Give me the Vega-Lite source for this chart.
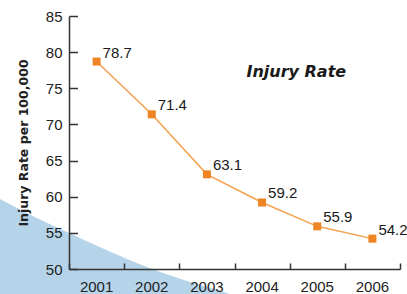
{
  "$schema": "https://vega.github.io/schema/vega-lite/v6.json",
  "width": 331,
  "height": 253,
  "autosize": {"type": "none"},
  "padding": {"left": 69, "top": 16, "right": 7, "bottom": 25},
  "background": "white",
  "config": {
    "font": "Liberation Sans",
    "view": {"stroke": null}
  },
  "datasets": {
    "rates": [
      {"year": "2001", "rate": 78.7},
      {"year": "2002", "rate": 71.4},
      {"year": "2003", "rate": 63.1},
      {"year": "2004", "rate": 59.2},
      {"year": "2005", "rate": 55.9},
      {"year": "2006", "rate": 54.2}
    ],
    "swoosh": [
      {"yr": 1998.86, "v": 61.21},
      {"yr": 1999.23, "v": 59.75},
      {"yr": 1999.85, "v": 57.3},
      {"yr": 2000.5, "v": 54.98},
      {"yr": 2001.25, "v": 52.4},
      {"yr": 2002.01, "v": 50.0},
      {"yr": 2002.7, "v": 48.2},
      {"yr": 2003.41, "v": 46.54},
      {"yr": 2003.96, "v": 44.6}
    ],
    "caption": [
      {"yr": 2004.62, "v": 76.56, "label": "Injury Rate"}
    ]
  },
  "resolve": {"scale": {"x": "independent", "y": "independent"}},
  "layer": [
    {
      "layer": [
        {
          "data": {"name": "swoosh"},
          "mark": {"type": "area", "color": "#b5d4ea", "clip": false, "interpolate": "monotone", "opacity": 1},
          "encoding": {
            "x": {"field": "yr", "type": "quantitative", "scale": {"domain": [2000.5, 2006.5], "nice": false, "zero": false}, "axis": null},
            "y": {"field": "v", "type": "quantitative", "scale": {"domain": [50, 85], "nice": false, "zero": false}, "axis": null},
            "y2": {"datum": 40}
          }
        },
        {
          "data": {"name": "caption"},
          "mark": {"type": "text", "font": "DejaVu Sans", "fontSize": 16, "fontWeight": "bold", "fontStyle": "italic", "color": "#1a1a1a", "align": "center", "baseline": "alphabetic"},
          "encoding": {
            "x": {"field": "yr", "type": "quantitative", "scale": {"domain": [2000.5, 2006.5], "nice": false, "zero": false}, "axis": null},
            "y": {"field": "v", "type": "quantitative", "scale": {"domain": [50, 85], "nice": false, "zero": false}, "axis": null},
            "text": {"field": "label"}
          }
        }
      ]
    },
    {
      "data": {"name": "rates"},
      "resolve": {"axis": {"x": "independent", "y": "independent"}},
      "layer": [
        {
          "mark": {"type": "line", "color": "#f4a04c", "strokeWidth": 1.5},
          "encoding": {
            "x": {
              "field": "year", "type": "ordinal",
              "scale": {"type": "band", "paddingInner": 0, "paddingOuter": 0},
              "axis": {
                "orient": "bottom", "title": null, "labelAngle": 0, "ticks": false,
                "labelFontSize": 15, "labelColor": "#222", "labelPadding": 10,
                "domainColor": "#333", "domainWidth": 1.5, "zindex": 1
              }
            },
            "y": {
              "field": "rate", "type": "quantitative",
              "scale": {"domain": [50, 85], "nice": false, "zero": false},
              "axis": {
                "orient": "left",
                "title": "Injury Rate per 100,000", "titleFont": "DejaVu Sans", "titleFontSize": 12.5, "titleFontWeight": "bold", "titleColor": "#222", "titlePadding": 15,
                "values": [50, 55, 60, 65, 70, 75, 80, 85], "ticks": false,
                "labelFontSize": 15, "labelColor": "#222", "labelPadding": 7,
                "domainColor": "#333", "domainWidth": 1.5,
                "grid": false, "zindex": 1
              }
            }
          }
        },
        {
          "mark": {"type": "point", "shape": "square", "filled": true, "color": "#ef8424", "size": 64, "opacity": 1},
          "encoding": {
            "x": {
              "field": "year", "type": "ordinal",
              "scale": {"type": "band", "paddingInner": 0, "paddingOuter": 0},
              "axis": {
                "orient": "bottom", "title": null, "labels": false, "domain": false, "grid": false,
                "tickBand": "extent", "tickSize": 6, "offset": -6,
                "tickColor": "#333", "tickWidth": 1.5, "zindex": 1
              }
            },
            "y": {
              "field": "rate", "type": "quantitative",
              "scale": {"domain": [50, 85], "nice": false, "zero": false},
              "axis": {
                "orient": "left", "title": null, "labels": false, "domain": false, "grid": false,
                "values": [50, 55, 60, 65, 70, 75, 80, 85], "tickSize": 8.5, "offset": -8.5,
                "tickColor": "#333", "tickWidth": 1.5, "zindex": 1
              }
            }
          }
        },
        {
          "mark": {"type": "text", "align": "left", "baseline": "alphabetic", "dx": 6, "dy": -4, "fontSize": 15, "color": "#1a1a1a"},
          "encoding": {
            "x": {"field": "year", "type": "ordinal", "scale": {"type": "band", "paddingInner": 0, "paddingOuter": 0}, "axis": null},
            "y": {"field": "rate", "type": "quantitative", "scale": {"domain": [50, 85], "nice": false, "zero": false}, "axis": null},
            "text": {"field": "rate", "type": "quantitative", "format": ".1f"}
          }
        }
      ]
    }
  ]
}
